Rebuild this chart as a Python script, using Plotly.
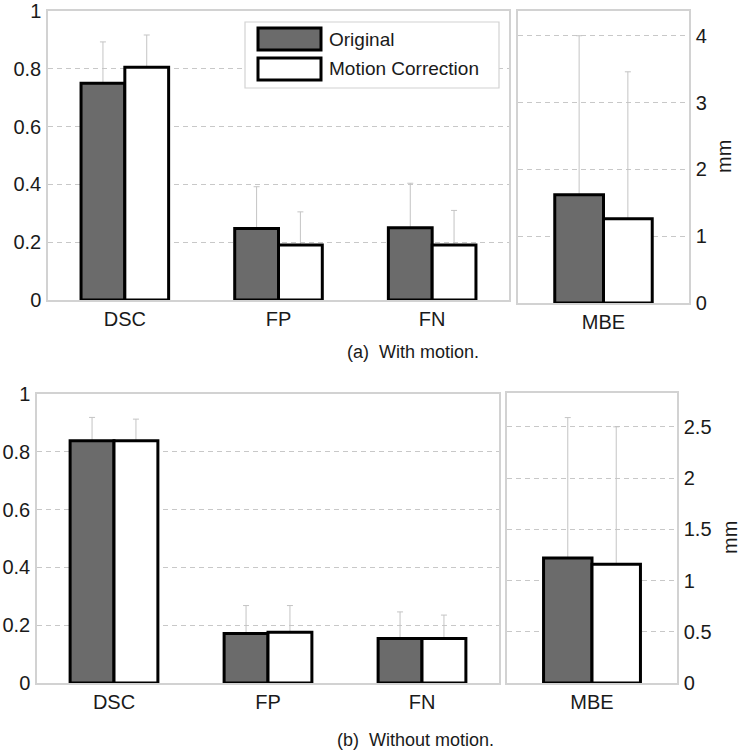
import plotly.graph_objects as go

W, H = 743, 750

# ---- data ----
categories = ["DSC", "FP", "FN"]
mbe_category = ["MBE"]

a_orig = [0.75, 0.247, 0.25]
a_orig_err = [0.143, 0.145, 0.154]
a_mc = [0.805, 0.19, 0.19]
a_mc_err = [0.112, 0.115, 0.12]
a_mbe_orig = [1.62]
a_mbe_orig_err = [2.38]
a_mbe_mc = [1.26]
a_mbe_mc_err = [2.2]

b_orig = [0.838, 0.171, 0.154]
b_orig_err = [0.081, 0.097, 0.092]
b_mc = [0.838, 0.176, 0.154]
b_mc_err = [0.075, 0.092, 0.081]
b_mbe_orig = [1.22]
b_mbe_orig_err = [1.37]
b_mbe_mc = [1.16]
b_mbe_mc_err = [1.34]

left_ticks = [0, 0.2, 0.4, 0.6, 0.8, 1]
a_mm_ticks = [0, 1, 2, 3, 4]
b_mm_ticks = [0, 0.5, 1, 1.5, 2, 2.5]

series_names = ["Original", "Motion Correction"]
captions = ["(a)  With motion.", "(b)  Without motion."]

# ---- style ----
FONT = "Liberation Sans, Arial, sans-serif"
ORIG_FILL = "#6b6b6b"
MC_FILL = "#ffffff"
ERR_COL = "#c4c4c4"
FRAME = "#d2d2d2"
GRID = "#c8c8c8"
TXT = "#1a1a1a"


def px_x(a, b):
    return [a / W, b / W]


def px_y(top, bottom):
    return [1 - bottom / H, 1 - top / H]


fig = go.Figure()


def add_bars(xs, orig, orig_err, mc, mc_err, xa, ya):
    series = [(orig, orig_err, ORIG_FILL, series_names[0], "o"),
              (mc, mc_err, MC_FILL, series_names[1], "m")]
    # error bars first (invisible bars) so the real bars are drawn over them
    for vals, errs, fill, name, grp in series:
        fig.add_trace(go.Bar(
            x=xs, y=vals, name=name, showlegend=False, hoverinfo="skip",
            xaxis=xa, yaxis=ya, offsetgroup=grp,
            marker=dict(color="rgba(0,0,0,0)", line=dict(width=0)),
            error_y=dict(type="data", array=errs, color=ERR_COL,
                         thickness=1, width=3),
        ))
    for vals, errs, fill, name, grp in series:
        fig.add_trace(go.Bar(
            x=xs, y=vals, name=name, showlegend=False,
            xaxis=xa, yaxis=ya, offsetgroup=grp,
            marker=dict(color=fill, line=dict(color="black", width=3)),
        ))


add_bars(categories, a_orig, a_orig_err, a_mc, a_mc_err, "x", "y")
add_bars(mbe_category, a_mbe_orig, a_mbe_orig_err, a_mbe_mc, a_mbe_mc_err, "x2", "y2")
add_bars(categories, b_orig, b_orig_err, b_mc, b_mc_err, "x3", "y3")
add_bars(mbe_category, b_mbe_orig, b_mbe_orig_err, b_mbe_mc, b_mbe_mc_err, "x4", "y4")

tickfont = dict(family=FONT, size=20, color=TXT)


def xaxis(domain, anchor):
    return dict(domain=domain, anchor=anchor, showline=True, mirror=True,
                linecolor=FRAME, linewidth=1.5, ticks="", tickfont=tickfont,
                showgrid=False, zeroline=False, fixedrange=True, automargin=False)


def yaxis(domain, anchor, rng, ticks, side):
    return dict(domain=domain, anchor=anchor, range=rng, tickvals=ticks,
                side=side, showline=True, mirror=True, linecolor=FRAME,
                linewidth=1.5, ticks="", tickfont=tickfont, ticklabelstandoff=1,
                showgrid=True, gridcolor=GRID, griddash="5px,4px", gridwidth=1,
                zeroline=False, fixedrange=True, automargin=False)


fig.update_layout(
    template="none",
    width=W, height=H,
    margin=dict(l=0, r=0, t=0, b=0, autoexpand=False),
    paper_bgcolor="white", plot_bgcolor="white",
    barmode="group", bargap=0.43, bargroupgap=0,
    font=dict(family=FONT, color=TXT),
    showlegend=False,
    xaxis=xaxis(px_x(48, 509), "y"),
    yaxis=yaxis(px_y(11, 300), "x", [0, 1], left_ticks, "left"),
    xaxis2=xaxis(px_x(518, 689), "y2"),
    yaxis2=yaxis(px_y(11, 303), "x2", [0, 4.37], a_mm_ticks, "right"),
    xaxis3=xaxis(px_x(37, 499), "y3"),
    yaxis3=yaxis(px_y(394, 683), "x3", [0, 1], left_ticks, "left"),
    xaxis4=xaxis(px_x(507, 677), "y4"),
    yaxis4=yaxis(px_y(393, 683), "x4", [0, 2.83], b_mm_ticks, "right"),
)

# manual legend (matches the large swatches of the original)
shapes = []
shapes.append(dict(type="rect", xref="paper", yref="paper",
                   x0=245 / W, x1=499 / W, y0=1 - 88 / H, y1=1 - 22 / H,
                   line=dict(color=FRAME, width=1.2), fillcolor="white", layer="above"))
for i, (fill, name) in enumerate([(ORIG_FILL, series_names[0]), (MC_FILL, series_names[1])]):
    top = 28 + i * 30
    shapes.append(dict(type="rect", xref="paper", yref="paper",
                       x0=258 / W, x1=321 / W, y0=1 - (top + 22) / H, y1=1 - top / H,
                       line=dict(color="black", width=3), fillcolor=fill, layer="above"))
    fig.add_annotation(x=327 / W, y=1 - (top + 11) / H, xref="paper", yref="paper",
                       text=name, showarrow=False, xanchor="left", yanchor="middle",
                       font=dict(family=FONT, size=19, color=TXT))
fig.update_layout(shapes=shapes)

# unit labels
fig.add_annotation(x=724 / W, y=1 - 157 / H, xref="paper", yref="paper", text="mm",
                   textangle=-90, showarrow=False, xanchor="center", yanchor="middle",
                   borderpad=0, font=dict(family=FONT, size=20, color=TXT))
fig.add_annotation(x=730 / W, y=1 - 538 / H, xref="paper", yref="paper", text="mm",
                   textangle=-90, showarrow=False, xanchor="center", yanchor="middle",
                   borderpad=0, font=dict(family=FONT, size=20, color=TXT))

# captions
fig.add_annotation(x=413 / W, y=1 - 352 / H, xref="paper", yref="paper", text=captions[0],
                   showarrow=False, xanchor="center", yanchor="middle",
                   font=dict(family=FONT, size=18, color=TXT))
fig.add_annotation(x=415 / W, y=1 - 740 / H, xref="paper", yref="paper", text=captions[1],
                   showarrow=False, xanchor="center", yanchor="middle",
                   font=dict(family=FONT, size=18, color=TXT))

fig.write_html(
    "out.html",
    config={"displayModeBar": False},
    post_script="document.body.style.margin='0';document.body.style.overflow='hidden';",
)
